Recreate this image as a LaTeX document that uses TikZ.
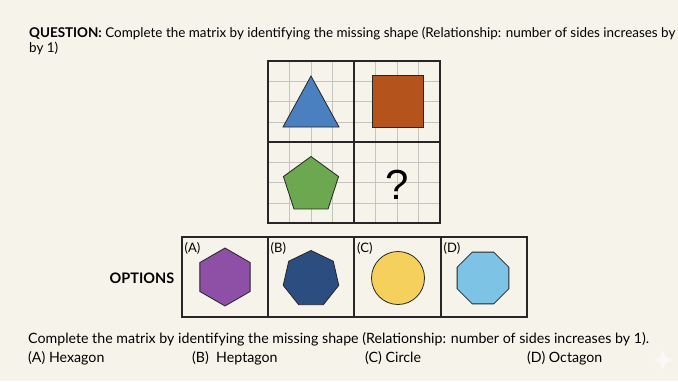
\documentclass[tikz,border=0pt]{standalone}
\usepackage{fontspec}
\setmainfont{Lato}
\newfontfamily\qfont{Liberation Sans}
\usetikzlibrary{shapes.geometric}
\definecolor{bg}{HTML}{F6F3EA}
\definecolor{gridc}{HTML}{C4C4C0}
\definecolor{triC}{HTML}{4A80C0}
\definecolor{sqC}{HTML}{B5531D}
\definecolor{penC}{HTML}{6BA84F}
\definecolor{hexC}{HTML}{8E4FA6}
\definecolor{hepC}{HTML}{2C4D80}
\definecolor{cirC}{HTML}{F6D05C}
\definecolor{octC}{HTML}{7DC3E6}
\tikzset{
  shp/.style={draw=black!85, line width=0.8pt, line join=miter},
  cellframe/.style={draw=black!85, line width=1.1pt},
  optframe/.style={draw=black!85, line width=1.1pt},
  toptext/.style={font=\fontsize{13.45}{16}\selectfont, anchor=base west, inner sep=0pt},
  body/.style={font=\fontsize{14.2}{16}\selectfont, anchor=base west, inner sep=0pt},
  lbl/.style={font=\fontsize{13}{15}\selectfont, anchor=base west, inner sep=0pt}
}
\begin{document}
\begin{tikzpicture}[x=1pt,y=-1pt]
\fill[bg] (0,0) rectangle (678,381);
\useasboundingbox (0,0) rectangle (678,381);
% question text
\node[toptext] (q1) at (29,37.7) {\textbf{QUESTION:} Complete the matrix by identifying the missing shape (Relationship: number of sides increases by};
\node[toptext] (q2) at (29,52.7) {by 1)};
% matrix grid
\foreach \i in {1,...,7} {
  \draw[gridc, line width=0.5pt] ({268+\i*21.5},61) -- ({268+\i*21.5},223);
  \draw[gridc, line width=0.5pt] (268,{61+\i*20.25}) -- (440,{61+\i*20.25});
}
\draw[cellframe] (268,61) rectangle (440,223);
\draw[cellframe] (354,61) -- (354,223);
\draw[cellframe] (268,142) -- (440,142);
% shapes
\draw[shp, fill=triC] (311,76) -- (339,127) -- (283,127) -- cycle;
\draw[shp, fill=sqC] (372,75) rectangle (423,127);
\node[regular polygon, regular polygon sides=5, minimum size=58pt, shp, fill=penC, inner sep=0pt] (pent) at (311,185.5) {};
\node[font=\qfont\fontsize{42}{44}\selectfont, inner sep=0pt] (qm) at (397,185) {?};
% options
\node[font=\bfseries\fontsize{14.5}{16}\selectfont] (opt) at (142,278) {OPTIONS};
\draw[optframe] (182,237) rectangle (527,317);
\foreach \xx in {268,354,441} \draw[optframe] (\xx,237) -- (\xx,317);
\node[lbl] (la) at (184.5,252) {(A)};
\node[lbl] (lb) at (270.5,252) {(B)};
\node[lbl] (lc) at (357,252) {(C)};
\node[lbl] (ld) at (443.5,252) {(D)};
\node[regular polygon, regular polygon sides=6, minimum size=58pt, shp, fill=hexC, shape border rotate=30, inner sep=0pt] (hex) at (225,277) {};
\node[regular polygon, regular polygon sides=7, minimum size=57pt, shp, fill=hepC, inner sep=0pt] (hep) at (311,279) {};
\node[circle, minimum size=53pt, shp, fill=cirC, inner sep=0pt] (cir) at (398,278) {};
\node[regular polygon, regular polygon sides=8, minimum size=56pt, shp, fill=octC, inner sep=0pt] (oct) at (483,278) {};
% bottom text
\node[body] (b1) at (28,343) {Complete the matrix by identifying the missing shape (Relationship: number of sides increases by 1).};
\node[body] (oa) at (28,362.5) {(A) Hexagon};
\node[body] (ob) at (192,362.5) {(B)\ \ Heptagon};
\node[body] (oc) at (365,362.5) {(C) Circle};
\node[body] (od) at (527,362.5) {(D) Octagon};
% sparkle
\fill[white, opacity=0.55] (663,348) .. controls (664,357) and (666,359) .. (675,360) .. controls (666,361) and (664,363) .. (663,372) .. controls (662,363) and (660,361) .. (651,360) .. controls (660,359) and (662,357) .. (663,348) -- cycle;
\end{tikzpicture}
\end{document}
